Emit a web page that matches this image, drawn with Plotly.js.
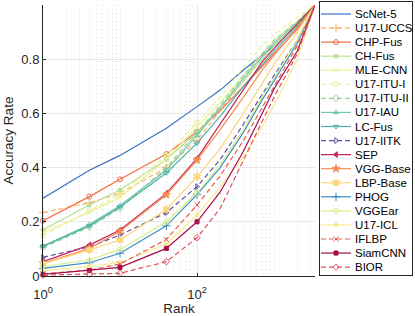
<!DOCTYPE html>
<html><head><meta charset="utf-8">
<script src="https://cdn.plot.ly/plotly-3.0.1.min.js"></script>
<style>html,body{margin:0;padding:0;background:#fff}#c{width:415px;height:316px}</style>
</head><body><div id="c"></div><script>
const ranks = [1, 4, 10, 40, 100, 200, 400, 700, 1000, 2000, 3400];
const markerRanks = [1, 4, 10, 40, 100];
const xTickVals = [1, 100];
const xTickText = ['10<sup>0</sup>', '10<sup>2</sup>'];
const yTickVals = [0, 0.2, 0.4, 0.6, 0.8, 1];
const yTickText = ['0', '0.2', '0.4', '0.6', '0.8', '1'];

const ScNet5   = [0.287, 0.390, 0.445, 0.545, 0.625, 0.686, 0.760, 0.815, 0.850, 0.925, 1];
const U17UCCS  = [0.234, 0.270, 0.305, 0.400, 0.500, 0.610, 0.720, 0.800, 0.850, 0.925, 1];
const CHPFus   = [0.204, 0.293, 0.357, 0.450, 0.532, 0.610, 0.700, 0.775, 0.820, 0.910, 1];
const CHFus    = [0.170, 0.262, 0.317, 0.430, 0.530, 0.620, 0.720, 0.800, 0.850, 0.930, 1];
const MLECNN   = [0.160, 0.235, 0.290, 0.430, 0.550, 0.640, 0.740, 0.820, 0.870, 0.940, 1];
const U17ITUI  = [0.150, 0.240, 0.300, 0.445, 0.565, 0.660, 0.770, 0.850, 0.890, 0.955, 1];
const U17ITUII = [0.105, 0.180, 0.250, 0.400, 0.530, 0.630, 0.740, 0.820, 0.870, 0.940, 1];
const U17IAU   = [0.110, 0.190, 0.260, 0.390, 0.520, 0.620, 0.730, 0.810, 0.860, 0.935, 1];
const LCFus    = [0.110, 0.185, 0.255, 0.380, 0.490, 0.590, 0.700, 0.780, 0.830, 0.920, 1];
const U17IITK  = [0.069, 0.108, 0.151, 0.234, 0.330, 0.430, 0.560, 0.670, 0.740, 0.870, 1];
const SEP      = [0.053, 0.114, 0.170, 0.305, 0.434, 0.560, 0.690, 0.790, 0.840, 0.930, 1];
const VGGBase  = [0.047, 0.102, 0.165, 0.300, 0.428, 0.540, 0.660, 0.760, 0.815, 0.915, 1];
const LBPBase  = [0.045, 0.096, 0.133, 0.246, 0.366, 0.470, 0.600, 0.710, 0.780, 0.900, 1];
const PHOG     = [0.028, 0.049, 0.084, 0.185, 0.300, 0.400, 0.530, 0.650, 0.720, 0.860, 1];
const VGGEar   = [0.035, 0.059, 0.098, 0.200, 0.307, 0.410, 0.540, 0.660, 0.730, 0.870, 1];
const U17ICL   = [0.020, 0.035, 0.050, 0.118, 0.225, 0.330, 0.440, 0.550, 0.630, 0.800, 1];
const IFLBP    = [0.008, 0.022, 0.044, 0.135, 0.262, 0.370, 0.500, 0.620, 0.700, 0.850, 1];
const SiamCNN  = [0.006, 0.020, 0.032, 0.102, 0.200, 0.310, 0.460, 0.600, 0.690, 0.830, 1];
const BIOR     = [0.003, 0.007, 0.010, 0.053, 0.141, 0.250, 0.430, 0.570, 0.660, 0.820, 1];

const names   = ['ScNet-5','U17-UCCS','CHP-Fus','CH-Fus','MLE-CNN','U17-ITU-I','U17-ITU-II','U17-IAU','LC-Fus','U17-IITK','SEP','VGG-Base','LBP-Base','PHOG','VGGEar','U17-ICL','IFLBP','SiamCNN','BIOR'];
const values  = [ScNet5,U17UCCS,CHPFus,CHFus,MLECNN,U17ITUI,U17ITUII,U17IAU,LCFus,U17IITK,SEP,VGGBase,LBPBase,PHOG,VGGEar,U17ICL,IFLBP,SiamCNN,BIOR];
const colors  = ['#3a6fc4','#fdb462','#f46d43','#b9e08f','#eef09a','#e9f29a','#95d49b','#72c6a8','#4fb0a8','#5e4fa2','#c2255c','#f88d52','#fdd67c','#3b8fc4','#d8ee8a','#f9eb92','#ee5a4a','#a50d48','#e34f5a'];
const symbols = [null,'cross-thin-open','circle-open','circle','x-thin-open','square-open','diamond-open','triangle-up-open','triangle-down-open','triangle-right-open','triangle-left','star','hexagram','cross-thin-open','circle-open','circle','x-thin-open','square','diamond-open'];
const sizes   = [0,6,5,4,5,4,5,5,5,5,5,6,6,6,5,4,5,4,5];
const dashes  = ['solid','5px,3px','solid','solid','solid','5px,3px','5px,3px','solid','solid','5px,3px','solid','solid','solid','solid','solid','solid','5px,3px','solid','5px,3px'];

const FONT = 'Liberation Sans, Arial, Helvetica, sans-serif';
const traces = [];
const annotations = [];
names.forEach((nm, i) => {
  const line = {color: colors[i], width: 1.2, dash: dashes[i]};
  traces.push({x: ranks, y: values[i], mode: 'lines', line: line, xaxis: 'x', yaxis: 'y', showlegend: false, hoverinfo: 'skip'});
  const mk = symbols[i] ? {symbol: symbols[i], size: sizes[i], color: colors[i], line: {color: colors[i], width: 1}} : null;
  if (mk) {
    const my = markerRanks.map(r => values[i][ranks.indexOf(r)]);
    traces.push({x: markerRanks, y: my, mode: 'markers', marker: mk, cliponaxis: false, xaxis: 'x', yaxis: 'y', showlegend: false, hoverinfo: 'skip'});
  }
  // hand-built legend entry (drawn on the legend's own axes)
  traces.push({x: [321, 351], y: [i, i], mode: 'lines', line: line, xaxis: 'x2', yaxis: 'y2', showlegend: false, hoverinfo: 'skip'});
  if (mk) traces.push({x: [336], y: [i], mode: 'markers', marker: mk, xaxis: 'x2', yaxis: 'y2', showlegend: false, hoverinfo: 'skip', cliponaxis: false});
  annotations.push({xref: 'x2', yref: 'y2', x: 352.5, y: i, text: nm, showarrow: false, xanchor: 'left', yanchor: 'middle', font: {family: FONT, size: 11.5, color: '#000'}});
});

const minorVals = [];
for (let d = 0; d < 4; d++) for (let k = 1; k < 10; k++) {
  const v = k * Math.pow(10, d);
  if (v <= 3400 && xTickVals.indexOf(v) < 0) minorVals.push(v);
}

const layout = {
  width: 415, height: 316,
  margin: {l: 0, r: 0, t: 0, b: 0},
  paper_bgcolor: '#fff', plot_bgcolor: '#fff',
  font: {family: FONT, size: 13, color: '#262626'},
  showlegend: false,
  xaxis: {
    type: 'log', range: [0, Math.log10(3400)], domain: [43/415, 315/415], anchor: 'y',
    tickvals: xTickVals, ticktext: xTickText, ticks: 'inside', ticklen: 3, tickcolor: '#262626',
    ticklabelstandoff: 6,
    showgrid: true, gridcolor: '#e8e8e8', gridwidth: 1,
    minor: {tickvals: minorVals, showgrid: true, gridcolor: '#dcdcdc', griddash: '1px,3px', gridwidth: 1, ticks: ''},
    showline: true, linecolor: '#262626', linewidth: 1, zeroline: false, automargin: false,
    tickfont: {family: FONT, size: 13, color: '#262626'},
    title: {text: 'Rank', font: {family: FONT, size: 13.5, color: '#262626'}, standoff: 10}
  },
  yaxis: {
    range: [0, 1], domain: [40/316, 311/316], anchor: 'x',
    tickvals: yTickVals, ticktext: yTickText, ticks: 'inside', ticklen: 3, tickcolor: '#262626',
    showgrid: true, gridcolor: '#e8e8e8', gridwidth: 1,
    showline: true, linecolor: '#262626', linewidth: 1, zeroline: false, automargin: false,
    tickfont: {family: FONT, size: 13, color: '#262626'},
    title: {text: 'Accuracy Rate', font: {family: FONT, size: 13.5, color: '#262626'}, standoff: 4}
  },
  xaxis2: {domain: [320/415, 412/415], range: [320, 412], anchor: 'y2', showgrid: false, zeroline: false,
    showticklabels: false, ticks: '', showline: true, mirror: true, linecolor: '#262626', linewidth: 1, fixedrange: true},
  yaxis2: {domain: [41/316, 314/316], range: [18.56, -0.853], anchor: 'x2', showgrid: false, zeroline: false,
    showticklabels: false, ticks: '', showline: true, mirror: true, linecolor: '#262626', linewidth: 1, fixedrange: true},
  annotations: annotations
};

Plotly.newPlot('c', traces, layout, {displayModeBar: false, staticPlot: true});
</script></body></html>
